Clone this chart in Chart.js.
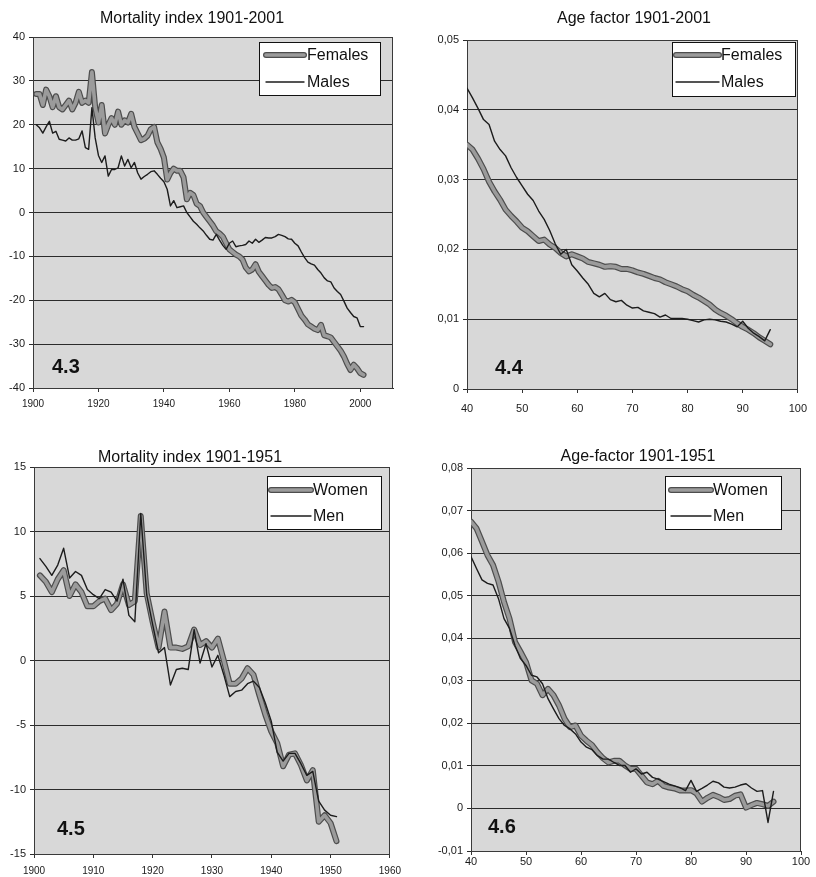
<!DOCTYPE html>
<html>
<head>
<meta charset="utf-8">
<script src="https://cdn.jsdelivr.net/npm/chart.js@4.4.1/dist/chart.umd.min.js"></script>
<style>
  body { margin: 0; background: #fff; }
  #page { position: relative; width: 816px; height: 877px; }
  canvas { position: absolute; }
  .title { position: absolute; width: 300px; text-align: center; font: 16px Arial, "Liberation Sans", sans-serif; line-height: 16px; color: #111; }
  .num { position: absolute; font: bold 20px Arial, "Liberation Sans", sans-serif; line-height: 20px; color: #111; }
</style>
</head>
<body>
<div id="page">
  <canvas id="c1" width="408" height="430" style="left:0;top:0"></canvas>
  <canvas id="c2" width="408" height="430" style="left:408px;top:0"></canvas>
  <canvas id="c3" width="408" height="447" style="left:0;top:430px"></canvas>
  <canvas id="c4" width="408" height="447" style="left:408px;top:430px"></canvas>

  <div class="title" style="left:42px;top:10px">Mortality index 1901-2001</div>
  <div class="title" style="left:484px;top:10px">Age factor 1901-2001</div>
  <div class="title" style="left:40px;top:449px">Mortality index 1901-1951</div>
  <div class="title" style="left:488px;top:448px">Age-factor 1901-1951</div>

  <div class="num" style="left:52px;top:356px">4.3</div>
  <div class="num" style="left:495px;top:357px">4.4</div>
  <div class="num" style="left:57px;top:818px">4.5</div>
  <div class="num" style="left:488px;top:816px">4.6</div>
</div>

<script>
'use strict';

// ---- data ----
// 4.3 mortality index, years 1901-2001
let females43 = [
  27, 27, 24.5, 28, 26.5, 24, 26.5, 24, 23.5, 24.5,
  25.5, 23.5, 25, 27.5, 25, 25.5, 25, 32, 24, 20.5,
  24.5, 18, 20, 21.5, 20, 23, 20, 21, 20.5, 22.5,
  19.5, 18, 16.5, 16.8, 17.5, 19, 19.5, 16, 14.5, 12.5,
  7.5, 9, 10, 9.5, 9.5, 8, 3, 4.5, 4, 2,
  1.5, 0, -1, -2, -3, -4.3, -4.8, -5.5, -7, -8.4,
  -9, -9.6, -10, -10.7, -12.5, -13.4, -13, -11.8, -13.5, -14.5,
  -15.5, -16.5, -17.2, -17, -17.5, -18.7, -20, -20.3, -19.9, -20.5,
  -22, -23.5, -24.4, -25.5, -26, -26.5, -26.8, -25.6, -28, -28.2,
  -28.5, -29.5, -30.5, -31.5, -32.8, -34.5, -35.9, -34.7, -35.5, -36.6,
  -37
];
let males43 = [
  20, 19.3, 18.1, 19.5, 20.8, 18.1, 18.5, 16.7, 16.5, 16.3,
  17, 16.5, 16.5, 16.8, 18.6, 14.8, 14.4, 23.9, 17, 13,
  11.4, 12.9, 8.3, 9.8, 9.8, 10.2, 12.9, 10.6, 12.1, 10.2,
  11.4, 9, 7.6, 8.2, 8.7, 9.3, 9.5, 8.7, 7.8, 7.0,
  5.3, 1.5, 2.7, 1.1, 1.3, 1.5, 0, -1, -2, -2.7,
  -3.5, -4.2, -5.2, -6.1, -6.3, -5, -6.3, -7.5, -8.4, -7,
  -6.5, -7.8, -7.6, -7.5, -7.3, -6.5, -7, -6.1, -6.8, -6.3,
  -5.7, -5.8, -5.8, -5.5, -5, -5.2, -5.5, -6, -6.1, -7,
  -7.6, -9, -10.3, -11.3, -11.7, -12, -13, -13.8, -14.9, -15.6,
  -15.8, -17.2, -18, -18.7, -20.2, -21.8, -22.8, -23.7, -24, -26,
  -26
];

// 4.4 age factor, ages 40-95
let females44 = [
  0.0350, 0.0343, 0.0330, 0.0315, 0.0297, 0.0283, 0.0271, 0.0257, 0.0248, 0.0240,
  0.0231, 0.0226, 0.0219, 0.0212, 0.0214, 0.0207, 0.0202, 0.0195, 0.0190, 0.0193,
  0.0190, 0.0187, 0.0182, 0.0180, 0.0178, 0.0175, 0.0176, 0.0175, 0.0172, 0.0172,
  0.0170, 0.0167, 0.0165, 0.0162, 0.0159, 0.0157, 0.0153, 0.0150, 0.0147, 0.0143,
  0.0140, 0.0135, 0.0131, 0.0126, 0.0121, 0.0114, 0.0109, 0.0105, 0.0100, 0.0094,
  0.0089, 0.0085, 0.0080, 0.0074, 0.0069, 0.0064
];
let males44 = [
  0.0431, 0.0417, 0.0402, 0.0386, 0.0379, 0.0355, 0.0343, 0.0334, 0.0317, 0.0303,
  0.0291, 0.0279, 0.0270, 0.0255, 0.0243, 0.0227, 0.0208, 0.0193, 0.0200, 0.0178,
  0.0169, 0.0159, 0.0150, 0.0137, 0.0132, 0.0137, 0.0128, 0.0125, 0.0127, 0.0120,
  0.0116, 0.0117, 0.0112, 0.0110, 0.0108, 0.0103, 0.0106, 0.0101, 0.0101, 0.0101,
  0.0100, 0.0098, 0.0096, 0.0099, 0.0100, 0.0099, 0.0097, 0.0096, 0.0093, 0.0089,
  0.0097, 0.0087, 0.0080, 0.0075, 0.0069, 0.0085
];

// 4.5 mortality index, years 1901-1951
let women45 = [
  6.6, 6.1, 5.3, 6.3, 7.0, 5.0, 5.9, 5.3, 4.2, 4.2,
  4.6, 4.8, 3.9, 4.4, 5.9, 4.3, 4.6, 11.2, 5.2, 3.0,
  1.0, 3.8, 1.0, 1.0, 0.9, 1.1, 2.4, 1.2, 1.5, 1.0,
  1.7, 0.0, -1.8, -1.8, -1.4, -0.6, -1.1, -2.7, -4.2, -5.5,
  -6.4, -8.2, -7.3, -7.2, -8.1, -9.3, -8.5, -12.5, -12.0, -12.6,
  -14.0
];
let men45 = [
  7.9, 7.3, 6.6, 7.4, 8.7, 6.4, 6.9, 6.6, 5.5, 5.1,
  4.8, 5.5, 5.3, 4.6, 6.3, 3.5, 3.0, 11.4, 5.1, 2.8,
  0.6, 1.0, -1.9, -0.7, -0.6, -0.7, 2.4, -0.2, 1.3, -0.5,
  0.4, -1.1, -2.8, -2.4, -2.3, -1.8, -1.6, -2.1, -3.3, -4.7,
  -7.1, -7.8, -7.2, -7.2, -8.0, -8.9, -8.6, -10.9, -11.6, -12.0,
  -12.1
];

// 4.6 age factor, ages 40-95
let women46 = [
  0.0674, 0.0658, 0.0627, 0.0595, 0.0572, 0.0533, 0.0485, 0.0446, 0.0391, 0.0368,
  0.0344, 0.0301, 0.0293, 0.0266, 0.0281, 0.0266, 0.0242, 0.0211, 0.0191, 0.0195,
  0.0171, 0.0159, 0.0149, 0.0132, 0.0118, 0.0108, 0.0112, 0.0112, 0.0101, 0.0093,
  0.0093, 0.0077, 0.0061, 0.0057, 0.0065, 0.0053, 0.0049, 0.0047, 0.0042, 0.0042,
  0.0043, 0.0035, 0.0016, 0.0025, 0.0032, 0.0027, 0.0020, 0.0022, 0.0030, 0.0033,
  0.0002, 0.0008, 0.0013, 0.0010, 0.0006, 0.0016
];
let men46 = [
  0.0592, 0.0564, 0.0537, 0.0529, 0.0525, 0.0493, 0.0446, 0.0423, 0.0383, 0.0352,
  0.0336, 0.0313, 0.0309, 0.0293, 0.0258, 0.0234, 0.0211, 0.0195, 0.0187, 0.0175,
  0.0156, 0.0144, 0.0138, 0.0124, 0.0116, 0.0116, 0.0108, 0.0101, 0.0101, 0.0085,
  0.0093, 0.0081, 0.0085, 0.0073, 0.0069, 0.0063, 0.0057, 0.0053, 0.0049, 0.0042,
  0.0066, 0.0040, 0.0047, 0.0055, 0.0064, 0.0060, 0.0050, 0.0048, 0.0050, 0.0055,
  0.0058, 0.0048, 0.0040, 0.0042, -0.0033, 0.0040
];

// x categories
function range(a, b) {
  let out = [];
  for (let i = a; i <= b; i++) out.push(i);
  return out;
}
let years1901to2001 = range(1901, 2001);
let years1901to1951 = range(1901, 1951);
let ages40to95 = range(40, 95);

const FONT = 'Arial, "Liberation Sans", sans-serif';
Chart.defaults.font.family = FONT;
Chart.defaults.color = '#1a1a1a';

function pts(xs, ys) {
  return ys.map((y, i) => ({ x: xs[i], y: y }));
}

// thin line on top, thick grey line with a dark edge underneath
function lineSets(thickLabel, thickVals, thinLabel, thinVals, xs) {
  let common = { pointRadius: 0, tension: 0, fill: false, borderCapStyle: 'round', borderJoinStyle: 'round' };
  return [
    Object.assign({ label: thinLabel, data: pts(xs, thinVals), borderColor: '#1c1c1c', borderWidth: 1.4, legendRow: 1 }, common),
    Object.assign({ label: thickLabel, data: pts(xs, thickVals), borderColor: '#9b9b9b', borderWidth: 3.6, legendRow: 0 }, common),
    Object.assign({ label: '', data: pts(xs, thickVals), borderColor: '#4d4d4d', borderWidth: 6, legendRow: 0 }, common)
  ];
}

function commaFmt(v) {
  if (Math.abs(v) < 1e-9) return '0';
  return v.toFixed(2).replace('.', ',');
}

// plot background, frame and boxed legend
const plotFrame = {
  id: 'plotFrame',
  beforeDraw(chart) {
    let a = chart.chartArea;
    let ctx = chart.ctx;
    ctx.save();
    ctx.fillStyle = '#d8d8d8';
    ctx.fillRect(a.left, a.top, a.right - a.left, a.bottom - a.top);
    ctx.restore();
  },
  beforeDatasetsDraw(chart) {
    let a = chart.chartArea;
    let ctx = chart.ctx;
    ctx.save();
    ctx.strokeStyle = '#3a3a3a';
    ctx.lineWidth = 1;
    ctx.strokeRect(Math.round(a.left) + 0.5, Math.round(a.top) + 0.5, Math.round(a.right - a.left) - 1, Math.round(a.bottom - a.top));
    ctx.restore();
  },
  afterDraw(chart, args, opts) {
    if (!opts || !opts.width) return;
    let ctx = chart.ctx;
    ctx.save();
    ctx.fillStyle = '#fff';
    ctx.fillRect(opts.left, opts.top, opts.width, opts.height);
    ctx.strokeStyle = '#111';
    ctx.lineWidth = 1;
    ctx.strokeRect(opts.left + 0.5, opts.top + 0.5, opts.width, opts.height);
    let sets = chart.data.datasets;
    for (let i = sets.length - 1; i >= 0; i--) {
      let ds = sets[i];
      let y = opts.rows[ds.legendRow];
      ctx.beginPath();
      ctx.lineCap = 'round';
      ctx.strokeStyle = ds.borderColor;
      ctx.lineWidth = ds.borderWidth;
      ctx.moveTo(opts.x0, y);
      ctx.lineTo(opts.x1, y);
      ctx.stroke();
      if (ds.label) {
        ctx.fillStyle = '#111';
        ctx.font = '16px ' + FONT;
        ctx.textBaseline = 'middle';
        ctx.textAlign = 'left';
        ctx.fillText(ds.label, opts.textX, y + 1);
      }
    }
    ctx.restore();
  }
};

function makeChart(id, datasets, p) {
  let ctx = document.getElementById(id).getContext('2d');
  return new Chart(ctx, {
    type: 'line',
    data: { datasets: datasets },
    plugins: [plotFrame],
    options: {
      responsive: false,
      animation: false,
      layout: { padding: { top: p.padTop, right: p.padRight, left: 0, bottom: 0 } },
      plugins: {
        legend: { display: false },
        title: { display: false },
        tooltip: { enabled: false },
        plotFrame: p.legend
      },
      scales: {
        x: {
          type: 'linear',
          min: p.xMin,
          max: p.xMax,
          ticks: {
            stepSize: p.xStep,
            includeBounds: false,
            autoSkip: false,
            maxRotation: 0,
            padding: p.xPad,
            font: { size: p.xFont },
            callback: v => String(v)
          },
          grid: { drawOnChartArea: false, drawTicks: true, tickLength: 4, color: '#333' },
          border: { display: true, color: '#333' },
          afterFit: s => { s.height = p.xH; }
        },
        y: {
          min: p.yMin,
          max: p.yMax,
          ticks: {
            stepSize: p.yStep,
            padding: 4,
            font: { size: 11 },
            callback: p.yFmt || (v => String(v))
          },
          grid: { color: '#2b2b2b', lineWidth: 1, drawTicks: true, tickLength: 4 },
          border: { display: true, color: '#333' },
          afterFit: s => { s.width = p.yW; }
        }
      }
    }
  });
}

makeChart('c1', lineSets('Females', females43, 'Males', males43, years1901to2001), {
  padTop: 37, padRight: 15, yW: 33, xH: 42, xPad: 6, xFont: 10,
  xMin: 1900, xMax: 2010, xStep: 20, yMin: -40, yMax: 40, yStep: 10,
  legend: { left: 259, top: 42, width: 121, height: 53, x0: 266, x1: 304, textX: 307, rows: [55, 82] }
});

makeChart('c2', lineSets('Females', females44, 'Males', males44, ages40to95), {
  padTop: 40, padRight: 14, yW: 59, xH: 41, xPad: 9, xFont: 11,
  xMin: 40, xMax: 100, xStep: 10, yMin: 0, yMax: 0.05, yStep: 0.01, yFmt: commaFmt,
  legend: { left: 264, top: 42, width: 123, height: 54, x0: 268, x1: 311, textX: 313, rows: [55, 82] }
});

makeChart('c3', lineSets('Women', women45, 'Men', men45, years1901to1951), {
  padTop: 37, padRight: 11, yW: 34, xH: 23, xPad: 7, xFont: 10,
  xMin: 1900, xMax: 1960, xStep: 10, yMin: -15, yMax: 15, yStep: 5,
  legend: { left: 267, top: 46, width: 114, height: 53, x0: 271, x1: 311, textX: 313, rows: [60, 86] }
});

makeChart('c4', lineSets('Women', women46, 'Men', men46, ages40to95), {
  padTop: 38, padRight: 15, yW: 63, xH: 26, xPad: 0, xFont: 11,
  xMin: 40, xMax: 100, xStep: 10, yMin: -0.01, yMax: 0.08, yStep: 0.01, yFmt: commaFmt,
  legend: { left: 257, top: 46, width: 116, height: 53, x0: 263, x1: 303, textX: 305, rows: [60, 86] }
});
</script>
</body>
</html>
